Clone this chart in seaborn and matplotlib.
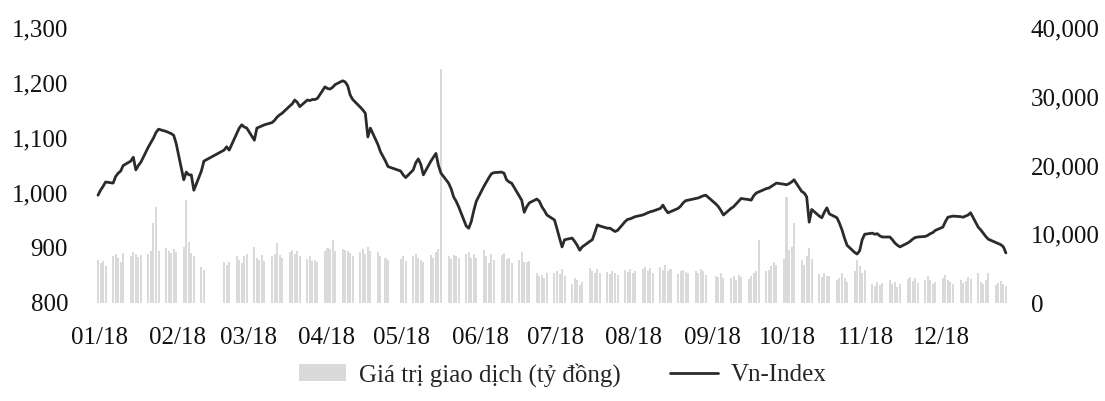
import numpy as np
import pandas as pd
import matplotlib
matplotlib.use('Agg')
import matplotlib.pyplot as plt
import matplotlib.dates as mdates
from matplotlib.patches import Patch
from matplotlib.lines import Line2D
from matplotlib.ticker import FixedLocator, FuncFormatter
import seaborn as sns

# ---------------- data ----------------
holidays = ['2018-01-01', '2018-02-14', '2018-02-15', '2018-02-16', '2018-02-19',
            '2018-02-20', '2018-04-25', '2018-04-30', '2018-05-01', '2018-09-03',
            '2018-12-31']

vn_jan = [996, 1005, 1012, 1020, 1018, 1030, 1036, 1040, 1050, 1058, 1065, 1042, 1050, 1056,
          1084, 1092, 1100, 1110, 1116, 1112, 1110, 1108]
vn_feb = [1105, 1090, 1024, 1038, 1033, 1033, 1005, 1040, 1058, 1078, 1084, 1078, 1108, 1118, 1124]
vn_mar = [1120, 1118, 1096, 1118, 1120, 1122, 1124, 1128, 1132, 1138, 1142, 1145, 1158, 1162,
          1169, 1165, 1157, 1169, 1168, 1170, 1170, 1172]
vn_apr = [1193, 1190, 1189, 1192, 1197, 1204, 1202, 1195, 1178, 1170, 1156, 1151, 1145, 1102,
          1118, 1088, 1075, 1058, 1048]
vn_may = [1040, 1033, 1028, 1042, 1055, 1062, 1052, 1033, 1058, 1065, 1072, 1050, 1036, 1018,
          1008, 993, 985, 975, 940, 936, 948, 968]
vn_jun = [985, 1012, 1020, 1028, 1035, 1037, 1038, 1036, 1024, 1020, 1018, 995, 987, 965, 975,
          982, 989, 985, 975, 968, 960]
vn_jul = [951, 935, 918, 902, 915, 918, 912, 905, 896, 902, 912, 915, 928, 942, 940, 936, 936,
          933, 930, 932, 948, 952]
vn_aug = [953, 955, 957, 960, 962, 964, 966, 967, 972, 978, 970, 964, 966, 972, 976, 982, 986,
          987, 990, 991, 993, 995, 996]
vn_sep = [980, 975, 968, 960, 972, 975, 980, 985, 990, 988, 987, 995, 1000, 1002, 1008, 1009,
          1012, 1015, 1018]
vn_oct = [1016, 1015, 1017, 1020, 1024, 1003, 1000, 993, 947, 970, 958, 955, 965, 973, 962, 955,
          945, 933, 918, 905, 892, 889, 895]
vn_nov = [915, 925, 927, 925, 926, 922, 920, 920, 915, 909, 905, 902, 909, 912, 916, 919, 920,
          921, 923, 926, 928, 932]
vn_dec = [938, 948, 956, 957, 958, 957, 956, 958, 960, 964, 938, 933, 927, 921, 916, 910, 908,
          906, 902, 891]

val_jan = [6200, 5800, 6100, 5400, 6900, 7200, 6500, 5900, 7300, 6800, 7400, 7100, 6700, 7000,
           7200, 7600, 11600, 14000, 7600, 8000, 7500, 7300]
val_feb = [7900, 7400, 8200, 15000, 8900, 7300, 6800, 5200, 4800, 6000, 5600, 5900, 6900, 6200, 5800]
val_mar = [6800, 7100, 8100, 6600, 6300, 7000, 6100, 6900, 7200, 8700, 7000, 6600, 7400, 7700,
           7200, 7500, 6900, 6400, 6800, 6100, 6300, 5900]
val_apr = [7600, 8000, 7800, 9200, 7500, 7900, 7700, 7600, 7300, 6800, 7400, 7900, 7200, 8200,
           7600, 7400, 6800, 6500, 6200]
val_may = [6400, 6900, 6100, 6800, 7100, 6500, 6300, 6000, 7000, 6600, 7400, 7900, 34000, 6800,
           6400, 7000, 6900, 6600, 7200, 7400, 6500, 7100]
val_jun = [6600, 7700, 6900, 5800, 7200, 6200, 7000, 7300, 6400, 6600, 5800, 6200, 7400, 6000,
           5900, 6100, 4400, 3900, 4100, 3600, 4300]
val_jul = [4300, 4700, 4200, 4900, 4000, 2800, 3600, 3300, 2600, 3100, 5100, 4600, 4400, 4900,
           4300, 4500, 4200, 4700, 4400, 4100, 4800, 4500]
val_aug = [5000, 4300, 4600, 4900, 5300, 4700, 5100, 4400, 5200, 4800, 5500, 4600, 4900, 4200,
           4600, 4800, 4500, 4300, 4700, 4400, 4900, 4600, 4100]
val_sep = [4000, 3800, 4300, 3700, 3600, 3900, 3400, 4100, 3800, 3500, 3900, 4300, 4700, 9200,
           4600, 4800, 5400, 6000, 5500]
val_oct = [6400, 15400, 7700, 8200, 11600, 6200, 5600, 6800, 8000, 6400, 4200, 3800, 4400, 4000,
           3900, 3300, 3700, 4400, 3600, 3100, 4700, 6200, 5400]
val_nov = [4400, 4800, 2800, 2500, 3100, 2600, 2900, 3300, 2700, 3000, 2400, 2800, 3500, 3800,
           3200, 3600, 2900, 3400, 3900, 3300, 2700, 3100]
val_dec = [3600, 4100, 3300, 3000, 2800, 3400, 2900, 3200, 3800, 3500, 4300, 3100, 2800, 3300,
           4400, 2600, 2900, 3200, 2700, 2500]

month_labels = ['01/18', '02/18', '03/18', '04/18', '05/18', '06/18',
                '07/18', '08/18', '09/18', '10/18', '11/18', '12/18']
left_ticks = [800, 900, 1000, 1100, 1200, 1300]
right_ticks = [0, 10000, 20000, 30000, 40000]
label_value = 'Giá trị giao dịch (tỷ đồng)'
label_index = 'Vn-Index'

# ---------------- build frame ----------------
dates = pd.bdate_range('2018-01-02', '2018-12-28')
dates = dates[~dates.isin(pd.to_datetime(holidays))]
vnindex = (vn_jan + vn_feb + vn_mar + vn_apr + vn_may + vn_jun + vn_jul + vn_aug +
           vn_sep + vn_oct + vn_nov + vn_dec)
values = (val_jan + val_feb + val_mar + val_apr + val_may + val_jun + val_jul + val_aug +
          val_sep + val_oct + val_nov + val_dec)
n = min(len(dates), len(vnindex), len(values))
df = pd.DataFrame({'date': dates[:n], 'vnindex': vnindex[:n], 'value': values[:n]})

# ---------------- style ----------------
sns.set_style('white')
plt.rcParams['font.family'] = ['Liberation Serif', 'DejaVu Serif']
FS = 18
LINE_C = '#2b2b2b'
BAR_C = '#dadada'

W, H = 1105, 401
fig = plt.figure(figsize=(W / 100, H / 100), dpi=100)
ax = fig.add_axes([75 / W, 98 / H, 950 / W, 275 / H])
ax2 = ax.twinx()

ax2.bar(df['date'], df['value'], width=0.8, color=BAR_C, linewidth=0)
sns.lineplot(data=df, x='date', y='vnindex', ax=ax, color=LINE_C, lw=2.0, legend=False)

ax.set_zorder(ax2.get_zorder() + 1)
ax.patch.set_visible(False)

# x scale: Jan 2 at px 98, 2.522 px per day
ppd = 2.522
x0 = mdates.date2num(pd.Timestamp('2018-01-02'))
ax.set_xlim(x0 - 23 / ppd, x0 + 927 / ppd)
tick_pos = [mdates.date2num(d) + 1.5 for d in pd.date_range('2018-01-01', periods=12, freq='MS')]
ax.xaxis.set_major_locator(FixedLocator(tick_pos))
ax.set_xticklabels(month_labels)

ax.set_ylim(800, 1300)
ax.set_yticks(left_ticks)
ax.yaxis.set_major_formatter(FuncFormatter(lambda v, p: f'{v:,.0f}'))
ax2.set_ylim(0, 40000)
ax2.set_yticks(right_ticks)
ax2.yaxis.set_major_formatter(FuncFormatter(lambda v, p: f'{v:,.0f}'))

ax.set_xlabel('')
ax.set_ylabel('')
ax2.set_ylabel('')
for a in (ax, ax2):
    for s in a.spines.values():
        s.set_visible(False)
    a.grid(False)
ax.tick_params(axis='x', length=0, pad=17, labelsize=FS, colors='#111111')
ax.tick_params(axis='y', length=0, pad=5, labelsize=FS, colors='#111111')
ax2.tick_params(axis='y', length=0, pad=4, labelsize=FS, colors='#111111')

handles = [Patch(facecolor=BAR_C, edgecolor='none'),
           Line2D([], [], color=LINE_C, lw=2.0)]
fig.legend(handles=handles, labels=[label_value, label_index], loc='center',
           bbox_to_anchor=(0.509, 0.065), ncol=2, frameon=False, fontsize=FS,
           handlelength=1.9, handletextpad=0.5, columnspacing=2.0)

fig.savefig('out.png', dpi=100)
